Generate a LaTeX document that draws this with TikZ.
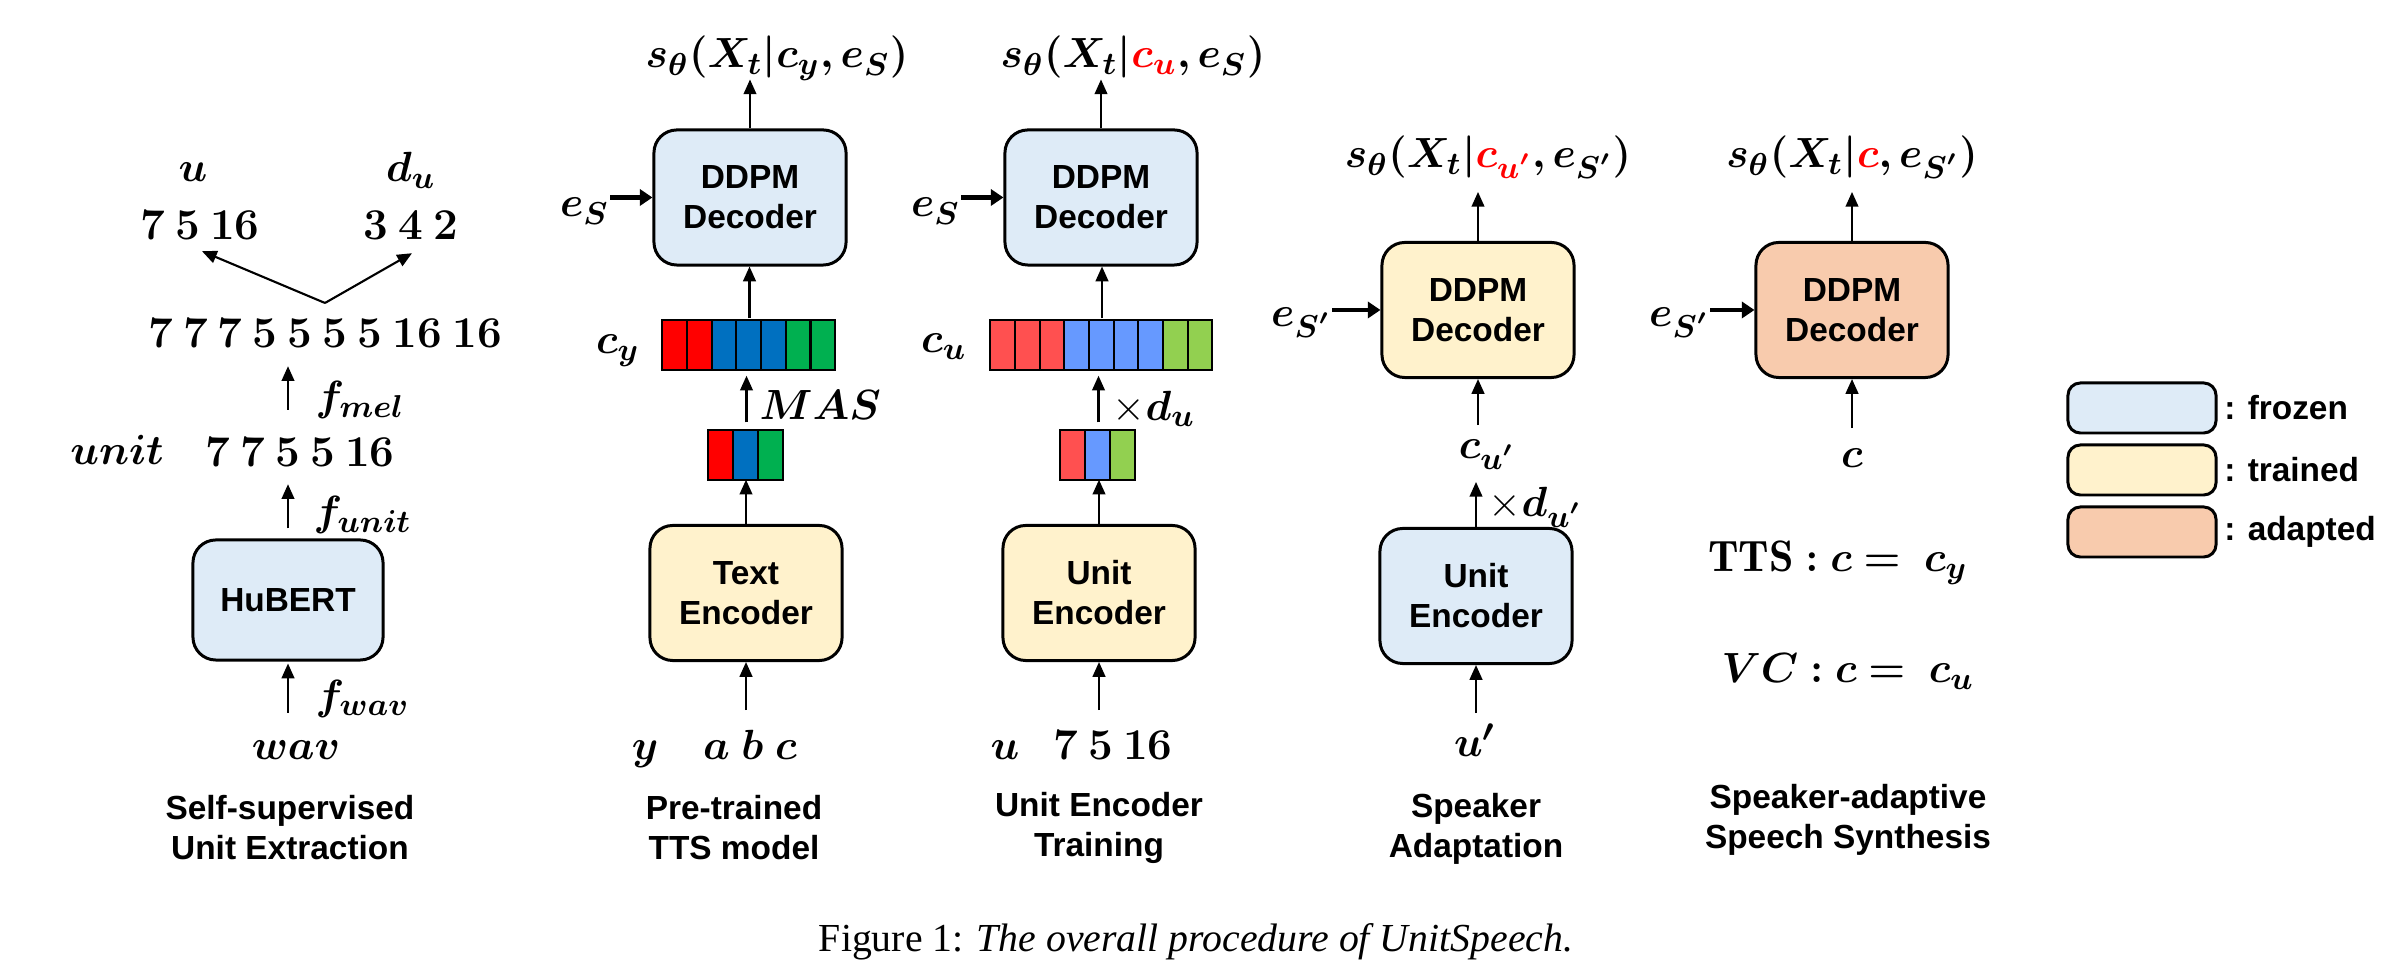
\documentclass[tikz,border=0pt]{standalone}
\usepackage{fontspec}
\setsansfont{Liberation Sans}
\newfontfamily\capfont{Liberation Serif}
\usepackage{amsmath}
\usepackage{bm}
\usetikzlibrary{arrows.meta,calc}
\definecolor{frozenc}{HTML}{DEEBF7}
\definecolor{trainedc}{HTML}{FFF2CC}
\definecolor{adaptedc}{HTML}{F8CBAD}
\definecolor{cR}{HTML}{FF0000}
\definecolor{cB}{HTML}{0070C0}
\definecolor{cG}{HTML}{00B050}
\definecolor{lR}{HTML}{FF5050}
\definecolor{lB}{HTML}{6699FF}
\definecolor{lG}{HTML}{92D050}
\newcommand{\dsp}{\hspace{2.9pt}}
\begin{document}
\begin{tikzpicture}[x=0.01cm,y=-0.01cm,
  blk/.style={draw, line width=0.85pt, rounded corners=6.5pt, align=center, inner sep=0pt,
    font=\sffamily\bfseries\fontsize{9.5}{11.4}\selectfont},
  frozen/.style={blk, fill=frozenc},
  trained/.style={blk, fill=trainedc},
  adapted/.style={blk, fill=adaptedc},
  dec/.style={minimum width=1.92cm, minimum height=1.35cm},
  arr/.style={-{Triangle[length=4.2pt,width=3.6pt]}, line width=0.6pt},
  barr/.style={-{Triangle[length=3.6pt,width=4.6pt]}, line width=1.2pt},
  mth/.style={inner sep=0pt, font=\fontsize{12.5}{15}\selectfont},
  captxt/.style={align=center, inner sep=0pt, font=\sffamily\bfseries\fontsize{9.5}{11.4}\selectfont},
  bar/.style={inner sep=0pt, minimum height=0.5cm},
  cell/.style={draw, line width=0.6pt},
]
\useasboundingbox (0,0) rectangle (2406,968);

% ---------- column 1: self-supervised unit extraction
\node[mth, anchor=base] (u1) at (193,182) {$\bm{u}$};
\node[mth, anchor=base] (du1) at (411,182) {$\bm{d_u}$};
\node[mth, anchor=base] (useq) at (200,240) {\bfseries 7\dsp5\dsp16};
\node[mth, anchor=base] (dseq) at (411,240) {\bfseries 3\dsp4\dsp2};
\node[mth, anchor=base] (mel) at (325,348) {\bfseries 7\dsp7\dsp7\dsp5\dsp5\dsp5\dsp5\dsp16\dsp16};
\coordinate (apex) at (325,303);
\draw[arr] (apex) -- ($(useq.south)+(2,10)$);
\draw[arr] (apex) -- ($(dseq.south)+(1,12)$);
\node[mth, anchor=base] (unitlab) at (117,465) {$\bm{unit}$};
\node[mth, anchor=base] (useq2) at (300,467) {\bfseries 7\dsp7\dsp5\dsp5\dsp16};
\node[frozen, minimum width=1.90cm, minimum height=1.20cm] (hubert) at (288,600) {HuBERT};
\draw[arr] ($(useq2.north -| hubert)+(0,-27)$) -- ($(mel.south -| hubert)+(0,17)$);
\node[mth, anchor=west] (fmel) at (315,400) {$\bm{f_{mel}}$};
\draw[arr] ($(hubert.north)+(0,-10)$) -- ($(useq2.south -| hubert)+(0,16)$);
\node[mth, anchor=west] (funit) at (313,515) {$\bm{f_{unit}}$};
\node[mth, anchor=base] (wav) at (296,760) {$\bm{wav}$};
\draw[arr] ($(hubert.south)+(0,51)$) -- ($(hubert.south)+(0,2)$);
\node[mth, anchor=west] (fwav) at (315,699) {$\bm{f_{wav}}$};

% ---------- column 2: pre-trained TTS model
\node[frozen, dec] (dec2) at (750,197.5) {DDPM\\Decoder};
\node[mth, anchor=base] (s2) at (777,68) {$\bm{s_\theta(X_t|c_y,e_S)}$};
\draw[arr] (dec2.north) -- ++(0,-49);
\node[mth, anchor=base east] (es2) at (610,217) {$\bm{e_S}$};
\draw[barr] (es2.east |- dec2.west) -- (dec2.west);
\node[bar, minimum width=1.73cm] (cy) at (749.5,344) {};
\foreach \c [count=\i from 0] in {cR,cR,cB,cB,cB,cG,cG}
  \draw[cell, fill=\c] ($(cy.south west)+(\i*24.714,0)$) rectangle ++(24.714,-50);
\node[mth, anchor=base] (cylab) at (618,354) {$\bm{c_y}$};
\draw[arr] (cy.north) -- (cy.north |- dec2.south);
\node[bar, minimum width=0.75cm] (t2) at (746.5,454) {};
\foreach \c [count=\i from 0] in {cR,cB,cG}
  \draw[cell, fill=\c] ($(t2.south west)+(\i*25,0)$) rectangle ++(25,-50);
\draw[arr] ($(t2.north)+(0,-6)$) -- ($(t2.north |- cy.south)+(0,6)$);
\node[mth, anchor=west] (mas) at (759,405) {$\bm{MAS}$};
\node[trained, dec] (enc2) at (746,593) {Text\\Encoder};
\draw[arr] (enc2.north) -- (enc2.north |- t2.south);
\node[mth, anchor=base] (ylab) at (645,760) {$\bm{y}$};
\node[mth, anchor=base] (abc) at (750,760) {$\bm{a\;b\;c}$};
\draw[arr] ($(enc2.south)+(0,48)$) -- (enc2.south);

% ---------- column 3: unit encoder training
\node[frozen, dec] (dec3) at (1101,197.5) {DDPM\\Decoder};
\node[mth, anchor=base] (s3) at (1133,68) {$\bm{s_\theta(X_t|}\textcolor{red}{\bm{c_u}}\bm{,e_S)}$};
\draw[arr] (dec3.north) -- ++(0,-49);
\node[mth, anchor=base east] (es3) at (961,217) {$\bm{e_S}$};
\draw[barr] (es3.east |- dec3.west) -- (dec3.west);
\node[bar, minimum width=2.22cm] (cu) at (1102,344) {};
\foreach \c [count=\i from 0] in {lR,lR,lR,lB,lB,lB,lB,lG,lG}
  \draw[cell, fill=\c] ($(cu.south west)+(\i*24.667,0)$) rectangle ++(24.667,-50);
\node[mth, anchor=base] (culab) at (944,353) {$\bm{c_u}$};
\draw[arr] (cu.north) -- (cu.north |- dec3.south);
\node[bar, minimum width=0.75cm] (t3) at (1098.5,454) {};
\foreach \c [count=\i from 0] in {lR,lB,lG}
  \draw[cell, fill=\c] ($(t3.south west)+(\i*25,0)$) rectangle ++(25,-50);
\draw[arr] ($(t3.north)+(0,-6)$) -- ($(t3.north |- cu.south)+(0,6)$);
\node[mth, anchor=west] (xdu) at (1112,409) {$\times\bm{d_u}$};
\node[trained, dec] (enc3) at (1099,593) {Unit\\Encoder};
\draw[arr] (enc3.north) -- (enc3.north |- t3.south);
\node[mth, anchor=base] (u3) at (1005,760) {$\bm{u}$};
\node[mth, anchor=base] (seq3) at (1113,760) {\bfseries 7\dsp5\dsp16};
\draw[arr] ($(enc3.south)+(0,48)$) -- (enc3.south);

% ---------- column 4: speaker adaptation
\node[trained, dec] (dec4) at (1478,310) {DDPM\\Decoder};
\node[mth, anchor=base] (s4) at (1488,168) {$\bm{s_\theta(X_t|}\textcolor{red}{\bm{c_{u'}}}\bm{,e_{S'})}$};
\draw[arr] (dec4.north) -- ++(0,-49);
\node[mth, anchor=base east] (es4) at (1332,327) {$\bm{e_{S'}}$};
\draw[barr] (es4.east |- dec4.west) -- (dec4.west);
\node[mth, anchor=base] (cu4) at (1487,459) {$\bm{c_{u'}}$};
\draw[arr] ($(dec4.south)+(0,46)$) -- (dec4.south);
\node[frozen, dec] (enc4) at (1476,596) {Unit\\Encoder};
\draw[arr] (enc4.north) -- ++(0,-45);
\node[mth, anchor=base west] (xdu4) at (1488,517) {$\times\bm{d_{u'}}$};
\node[mth, anchor=base] (u4) at (1475,757) {$\bm{u'}$};
\draw[arr] ($(enc4.south)+(0,48)$) -- (enc4.south);

% ---------- column 5: speaker-adaptive speech synthesis
\node[adapted, dec] (dec5) at (1852,310) {DDPM\\Decoder};
\node[mth, anchor=base] (s5) at (1852,168) {$\bm{s_\theta(X_t|}\textcolor{red}{\bm{c}}\bm{,e_{S'})}$};
\draw[arr] (dec5.north) -- ++(0,-49);
\node[mth, anchor=base east] (es5) at (1710,327) {$\bm{e_{S'}}$};
\draw[barr] (es5.east |- dec5.west) -- (dec5.west);
\node[mth, anchor=base] (c5) at (1852,468) {$\bm{c}$};
\draw[arr] ($(dec5.south)+(0,49)$) -- (dec5.south);
\node[mth, anchor=base] (tts) at (1838,572) {$\mathbf{TTS}\mathrel{\bm{:}}\bm{c}\mathrel{\bm{=}}\;\bm{c_y}$};
\node[mth, anchor=base] (vc) at (1848,683) {$\bm{VC}\mathrel{\bm{:}}\bm{c}\mathrel{\bm{=}}\;\bm{c_u}$};

% ---------- legend
\node[frozen, minimum width=1.48cm, minimum height=0.5cm, rounded corners=3.5pt] (lg1) at (2142,408) {};
\node[trained, minimum width=1.48cm, minimum height=0.5cm, rounded corners=3.5pt] (lg2) at (2142,470) {};
\node[adapted, minimum width=1.48cm, minimum height=0.5cm, rounded corners=3.5pt] (lg3) at (2142,532) {};
\node[captxt, anchor=west] (lg1t) at ($(lg1.east)+(6,0)$) {: frozen};
\node[captxt, anchor=west] (lg2t) at ($(lg2.east)+(6,0)$) {: trained};
\node[captxt, anchor=west] (lg3t) at ($(lg3.east)+(6,0)$) {: adapted};

% ---------- captions
\node[captxt] (cap1) at (290,828) {Self-supervised\\Unit Extraction};
\node[captxt] (cap2) at (734,828) {Pre-trained\\TTS model};
\node[captxt] (cap3) at (1099,828) {Unit Encoder\\Training};
\node[captxt] (cap4) at (1476,829) {Speaker\\Adaptation};
\node[captxt] (cap5) at (1848,820) {Speaker-adaptive\\Speech Synthesis};
\node[anchor=base, inner sep=0pt, font=\capfont\fontsize{11.3}{13}\selectfont] (fig) at (1196,952)
  {Figure 1: \textit{The overall procedure of UnitSpeech.}};
\end{tikzpicture}
\end{document}
